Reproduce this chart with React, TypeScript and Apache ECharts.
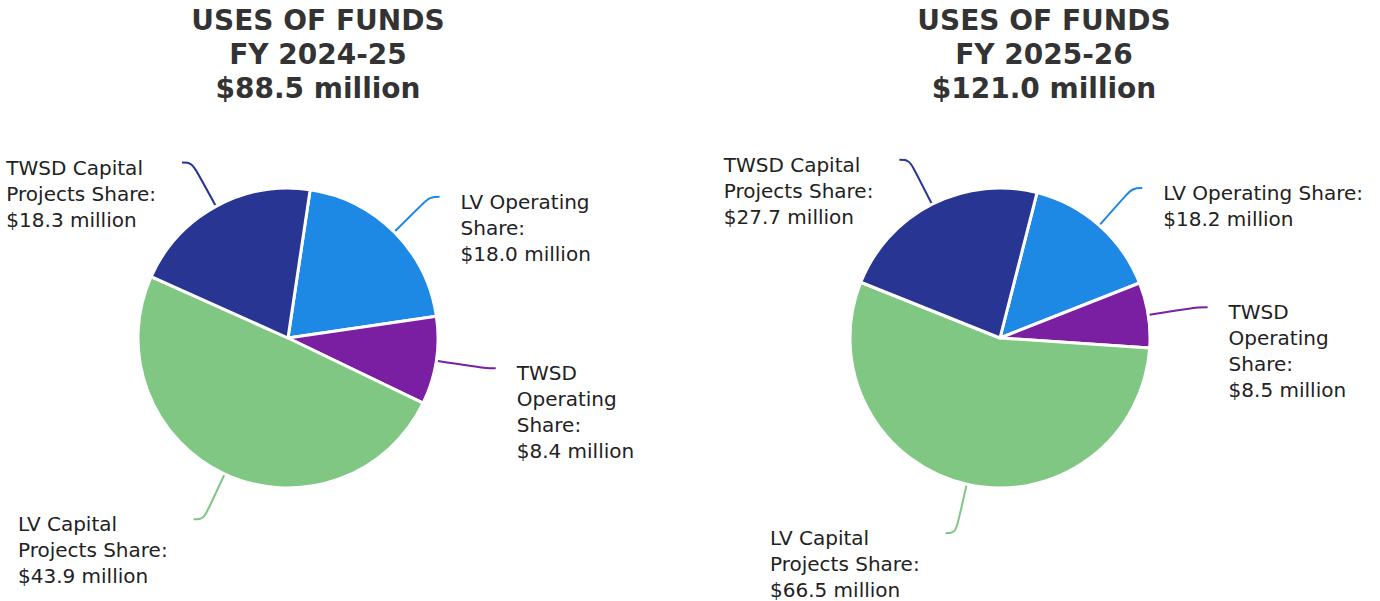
import React, { useEffect, useRef } from "react";
import * as echarts from "echarts";

const categories = [
  "LV Operating Share",
  "TWSD Operating Share",
  "LV Capital Projects Share",
  "TWSD Capital Projects Share",
];
const values2425 = [18.0, 8.4, 43.9, 18.3];
const values2526 = [18.2, 8.5, 66.5, 27.7];
const labels2425 = [
  "LV Operating\nShare:",
  "TWSD\nOperating\nShare:",
  "LV Capital\nProjects Share:",
  "TWSD Capital\nProjects Share:",
];
const labels2526 = [
  "LV Operating Share:",
  "TWSD\nOperating\nShare:",
  "LV Capital\nProjects Share:",
  "TWSD Capital\nProjects Share:",
];
const colors = ["#1E88E5", "#7B1FA2", "#81C784", "#283593"];
const titles = [
  "USES OF FUNDS\nFY 2024-25\n$88.5 million",
  "USES OF FUNDS\nFY 2025-26\n$121.0 million",
];

const FONT = "'DejaVu Sans', Verdana, sans-serif";

function makeSeries(values: number[], labels: string[], center: number[], startAngle: number) {
  return {
    type: "pie",
    radius: 150,
    center,
    startAngle,
    clockwise: true,
    avoidLabelOverlap: false,
    data: values.map((v, i) => ({
      name: categories[i],
      value: v,
      itemStyle: { color: colors[i] },
      label: { formatter: labels[i] + "\n$" + v.toFixed(1) + " million" },
    })),
    itemStyle: { borderColor: "#ffffff", borderWidth: 3 },
    label: {
      show: true,
      position: "outside",
      fontFamily: FONT,
      fontSize: 20,
      lineHeight: 26,
      color: "#222222",
      overflow: "none",
    },
    labelLine: { show: true, length: 50, length2: 10, smooth: 0.4, lineStyle: { width: 2 } },
    labelLayout: (params: any) => {
      const pts = params.labelLinePoints;
      if (!pts || pts.length < 3) return {};
      const p1 = pts[1];
      const p2 = pts[2];
      const right = p2[0] >= p1[0];
      const w = params.labelRect.width;
      return {
        x: right ? p2[0] + 21 : p2[0] - 26 - w,
        y: p2[1] - 8,
        align: "left",
        verticalAlign: "top",
        labelLinePoints: pts,
      };
    },
    emphasis: { disabled: true },
  };
}

export default function App() {
  const ref = useRef<HTMLDivElement>(null);
  useEffect(() => {
    document.body.style.margin = "0";
    const chart = echarts.init(ref.current!, null, { renderer: "svg" });
    chart.setOption({
      animation: false,
      backgroundColor: "#ffffff",
      title: titles.map((t, i) => ({
        text: t,
        left: i === 0 ? 318 : 1044,
        top: 3,
        padding: 0,
        textAlign: "center",
        textStyle: {
          fontFamily: FONT,
          fontSize: 28,
          fontWeight: "bold",
          lineHeight: 34,
          color: "#333333",
        },
      })),
      series: [
        makeSeries(values2425, labels2425, [288, 338], 81.5),
        makeSeries(values2526, labels2526, [1000, 338], 75.7),
      ],
    });
    return () => chart.dispose();
  }, []);
  return <div ref={ref} style={{ width: 1380, height: 601 }} />;
}
